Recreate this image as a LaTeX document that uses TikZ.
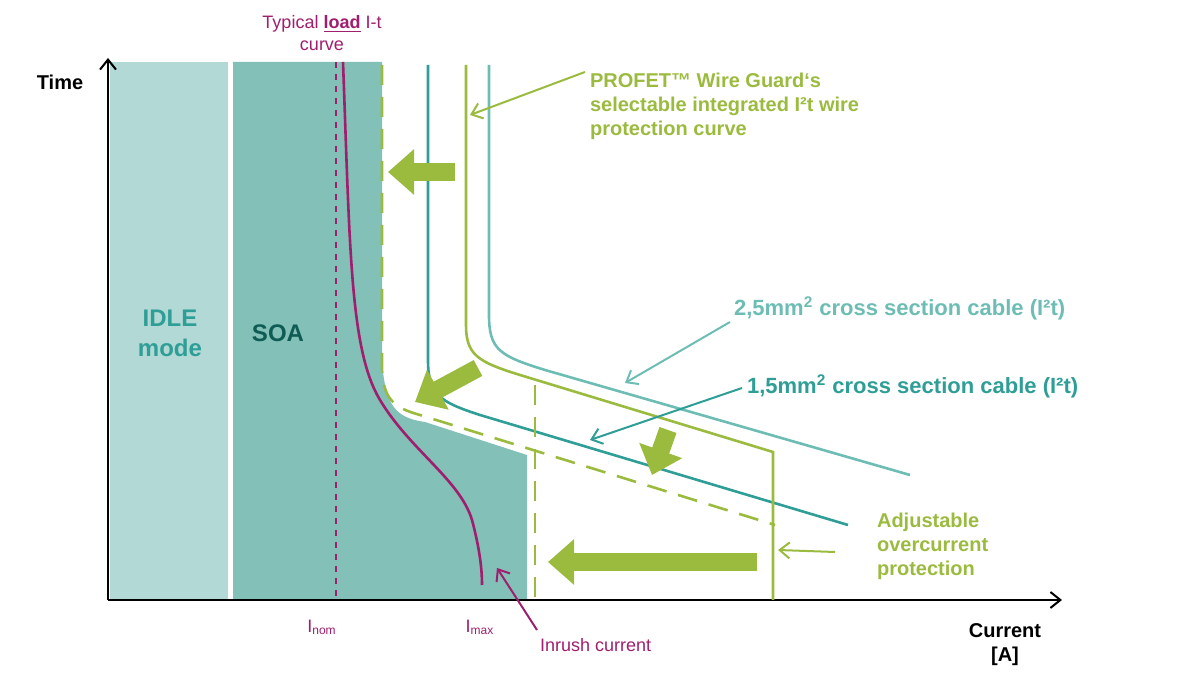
\documentclass[tikz,border=0pt]{standalone}
\usepackage{fontspec}
\setmainfont{Liberation Sans}
\usetikzlibrary{arrows.meta}
\definecolor{wgreen}{HTML}{9BBB3F}
\definecolor{dteal}{HTML}{2E9E96}
\definecolor{lteal}{HTML}{6EBDB5}
\definecolor{idle}{HTML}{B3D9D6}
\definecolor{soa}{HTML}{83C0B8}
\definecolor{load}{HTML}{A01E6E}
\definecolor{soatext}{HTML}{0F5C55}
\tikzset{
  curve/.style={line width=1.3pt},
  thin arrow/.style={line width=1pt,-{Straight Barb[length=5pt,width=8pt]}},
  block arrow/.style={wgreen,line width=9pt,-{Triangle[length=13pt,width=22pt]}},
  lbl/.style={font=\bfseries\fontsize{10}{12}\selectfont,align=left},
}
\begin{document}
\begin{tikzpicture}[x=0.5pt,y=-0.5pt]
\useasboundingbox (0,0) rectangle (1200,688);

% areas
\fill[idle] (110,62) rectangle (228,600);
\fill[soa] (233,62) -- (382,62) -- (382,360) .. controls (385,405) and (395,418) .. (425,422)
  -- (527,455) -- (527,600) -- (233,600) -- cycle;

% axes
\draw[line width=1pt,-{Straight Barb[length=5pt,width=8pt]}] (108,600) -- (108,58);
\draw[line width=1pt,-{Straight Barb[length=5pt,width=8pt]}] (108,600) -- (1062,600);
\node[font=\bfseries\fontsize{10}{12}\selectfont] (time) at (60,82) {Time};
\node[font=\bfseries\fontsize{10}{12}\selectfont,align=center] (current) at (1005,645) {Current\\{[A]}};

% load curve
\draw[load,line width=1pt,dashed] (336,62) -- (336,600);
\draw[load,curve] (343,62) .. controls (350,250) and (350,350) .. (380,400)
  .. controls (410,450) and (460,480) .. (472,520) .. controls (480,550) and (482,570) .. (482,585);

% cable curves
\draw[dteal,curve] (428,65) -- (428,360) .. controls (428,395) and (440,402) .. (480,415) -- (848,525);
\draw[lteal,curve] (489,65) -- (489,315) .. controls (489,350) and (500,356) .. (545,370) -- (910,475);
\draw[wgreen,curve] (466,65) -- (466,325) .. controls (466,355) and (478,362) .. (520,375) -- (773,452) -- (773,600);
\draw[wgreen,curve,dash pattern=on 10pt off 6pt] (382,65) -- (382,365) .. controls (382,400) and (395,408) .. (420,415) -- (775,525);
\draw[wgreen,curve,dash pattern=on 10pt off 6pt] (535,385) -- (535,600);

% block arrows
\draw[block arrow] (455,172) -- (388,172);
\draw[block arrow] (478,368) -- (415,402);
\draw[block arrow] (668,430) -- (652,475);
\draw[block arrow] (757,562) -- (548,562);

% labels
\node[load,font=\fontsize{9}{11}\selectfont,align=center] (loadlbl) at (322,33) {Typical \underline{\textbf{load}} I-t\\curve};
\node[lbl,wgreen,anchor=north west] (profet) at (583,66) {PROFET™ Wire Guard‘s\\selectable integrated I²t wire\\protection curve};
\node[lbl,lteal,anchor=west,font=\bfseries\fontsize{11}{13}\selectfont] (cab25) at (727,308) {2,5mm\textsuperscript{2} cross section cable (I²t)};
\node[lbl,dteal,anchor=west,font=\bfseries\fontsize{11}{13}\selectfont] (cab15) at (740,386) {1,5mm\textsuperscript{2} cross section cable (I²t)};
\node[lbl,wgreen,anchor=west] (adj) at (870,546) {Adjustable\\overcurrent\\protection};
\node[load,font=\fontsize{9}{11}\selectfont,anchor=west] (inrush) at (533,645) {Inrush current};
\node[load,font=\fontsize{9}{11}\selectfont] (inom) at (322,627) {I\textsubscript{nom}};
\node[load,font=\fontsize{9}{11}\selectfont] (imax) at (480,627) {I\textsubscript{max}};
\node[dteal,font=\bfseries\fontsize{12}{15}\selectfont,align=center] (idlelbl) at (170,333) {IDLE\\mode};
\node[soatext,font=\bfseries\fontsize{12}{15}\selectfont] (soalbl) at (278,333) {SOA};

% pointer arrows
\coordinate (pprofet) at (470,115);
\coordinate (p25) at (625,383);
\coordinate (p15) at (590,440);
\coordinate (padj) at (778,550);
\coordinate (pinrush) at (497,568);
\draw[thin arrow,wgreen] (585,72) -- (pprofet);
\draw[thin arrow,lteal] (730,322) -- (p25);
\draw[thin arrow,dteal] (742,388) -- (p15);
\draw[thin arrow,wgreen] (835,552) -- (padj);
\draw[thin arrow,load] (537,630) -- (pinrush);
\end{tikzpicture}
\end{document}
